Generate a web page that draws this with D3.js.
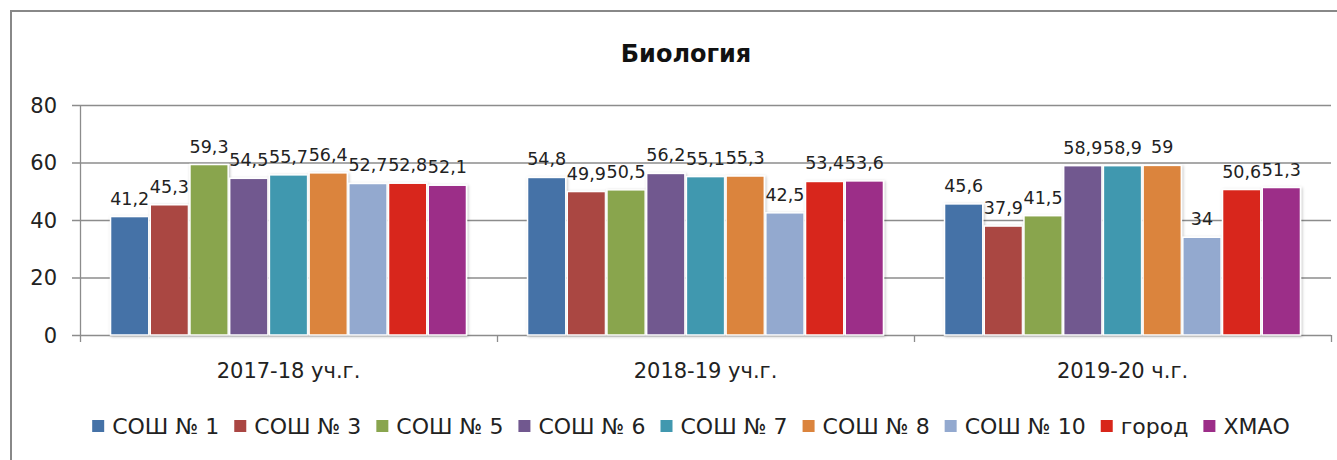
<!DOCTYPE html>
<html><head><meta charset="utf-8">
<script src="https://cdn.jsdelivr.net/npm/d3@7"></script>
<style>body{margin:0;background:#fff}svg{display:block}</style>
</head><body>
<svg id="c" width="1337" height="460"></svg>
<script>
const categories = ["2017-18 уч.г.", "2018-19 уч.г.", "2019-20 ч.г."];
const seriesNames = ["СОШ № 1", "СОШ № 3", "СОШ № 5", "СОШ № 6", "СОШ № 7", "СОШ № 8", "СОШ № 10", "город", "ХМАО"];
const values = [
  [41.2, 54.8, 45.6],
  [45.3, 49.9, 37.9],
  [59.3, 50.5, 41.5],
  [54.5, 56.2, 58.9],
  [55.7, 55.1, 58.9],
  [56.4, 55.3, 59],
  [52.7, 42.5, 34],
  [52.8, 53.4, 50.6],
  [52.1, 53.6, 51.3]
];
const colors = ["#4572A7", "#AA4643", "#89A54E", "#71588F", "#4198AF", "#DB843D", "#93A9CF", "#D8261A", "#9C2D88"];
const yTicks = [0, 20, 40, 60, 80];
const title = "Биология";

(function () {
const svg = d3.select("#c");
const FONT = "DejaVu Sans, sans-serif";
const fmt = v => String(v).replace(".", ",");

// chart frame
svg.append("path").attr("d", "M11,460 V11 H1337").attr("fill", "none").attr("stroke", "#888").attr("stroke-width", 2);

const pLeft = 80, pRight = 1331, pTop = 105, pBottom = 335;
const x0 = d3.scaleBand().domain(categories).range([pLeft, pRight]).paddingInner(0).paddingOuter(0);
const x1 = d3.scaleBand().domain(seriesNames).range([0, x0.bandwidth()]).paddingOuter(0.75).paddingInner(0);
const y = d3.scaleLinear().domain([0, 80]).range([pBottom, pTop]);

// gridlines
svg.append("g").selectAll("line").data(yTicks).join("line")
  .attr("x1", pLeft - 8).attr("x2", pRight).attr("y1", d => y(d) + 0.5).attr("y2", d => y(d) + 0.5)
  .attr("stroke", "#8c8c8c").attr("stroke-width", 1.3);

// y axis line
svg.append("line").attr("x1", pLeft + 0.5).attr("x2", pLeft + 0.5).attr("y1", pTop).attr("y2", pBottom)
  .attr("stroke", "#8c8c8c").attr("stroke-width", 1.3);

// y tick labels
svg.append("g").selectAll("text").data(yTicks).join("text")
  .attr("x", 57).attr("y", d => y(d)).attr("dy", "0.36em").attr("text-anchor", "end")
  .attr("font-family", FONT).attr("font-size", 21).attr("fill", "#222").text(d => d);

// category ticks
const catEdges = [...categories.map(c => x0(c)), pRight];
svg.append("g").selectAll("line").data(catEdges).join("line")
  .attr("x1", d => d + 0.5).attr("x2", d => d + 0.5).attr("y1", pBottom).attr("y2", pBottom + 7)
  .attr("stroke", "#8c8c8c").attr("stroke-width", 1.3);

// shadow filter
const defs = svg.append("defs");
const f = defs.append("filter").attr("id", "sh").attr("x", "-20%").attr("y", "-20%").attr("width", "140%").attr("height", "140%");
f.append("feDropShadow").attr("dx", 1).attr("dy", 1).attr("stdDeviation", 1.5).attr("flood-color", "#000").attr("flood-opacity", 0.25);

// bars
const data = [];
seriesNames.forEach((s, i) => categories.forEach((c, j) => data.push({s, c, v: values[i][j], i})));
svg.append("g").selectAll("rect").data(data).join("rect")
  .attr("x", d => x0(d.c) + x1(d.s) + 0.75)
  .attr("width", x1.bandwidth() - 1.5)
  .attr("y", d => y(d.v))
  .attr("height", d => y(0) - y(d.v))
  .attr("fill", d => colors[d.i])
  .attr("stroke", "#fff").attr("stroke-width", 1.5)
  .attr("filter", "url(#sh)");

// data labels
svg.append("g").selectAll("text").data(data).join("text")
  .attr("x", d => x0(d.c) + x1(d.s) + x1.bandwidth() / 2)
  .attr("y", d => y(d.v) - 12)
  .attr("text-anchor", "middle")
  .attr("font-family", FONT).attr("font-size", 17.5).attr("fill", "#222")
  .text(d => fmt(d.v));

// category labels
svg.append("g").selectAll("text").data(categories).join("text")
  .attr("x", d => x0(d) + x0.bandwidth() / 2).attr("y", 378)
  .attr("text-anchor", "middle")
  .attr("font-family", FONT).attr("font-size", 21).attr("fill", "#222").text(d => d);

// title
svg.append("text").attr("x", 686).attr("y", 62).attr("text-anchor", "middle")
  .attr("font-family", FONT).attr("font-weight", "bold").attr("font-size", 24).attr("fill", "#111").text(title);

// legend
const lg = svg.append("g");
const items = lg.selectAll("g").data(seriesNames).join("g");
items.append("rect").attr("width", 12).attr("height", 12).attr("y", -6)
  .attr("fill", (d, i) => colors[i]);
items.append("text").attr("x", 20).attr("dy", "0.36em")
  .attr("font-family", FONT).attr("font-size", 22).attr("fill", "#222").text(d => d);
let xpos = 0;
const positions = [];
items.each(function () {
  const w = d3.select(this).select("text").node().getComputedTextLength();
  positions.push(xpos);
  xpos += 20 + w + 15;
});
const totalW = xpos - 15;
const startX = 691 - totalW / 2;
items.attr("transform", (d, i) => `translate(${startX + positions[i]},426)`);
})();
</script>
</body></html>
